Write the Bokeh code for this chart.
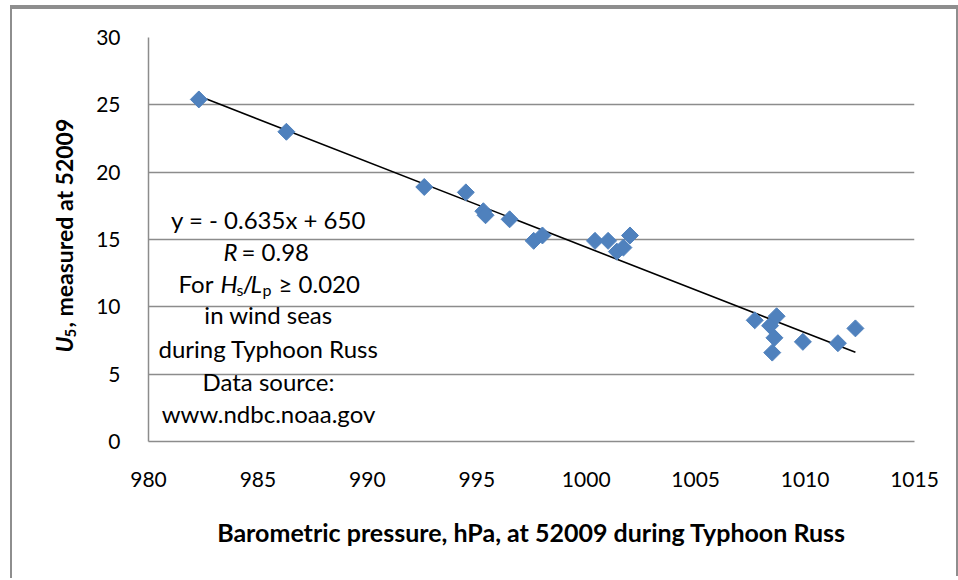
import numpy as np
from bokeh.plotting import figure
from bokeh.models import Label, FixedTicker, Range1d
from bokeh.embed import file_html
from bokeh.resources import INLINE

# ---- data ----
pressure = [982.3, 986.3, 992.6, 994.5, 995.3, 995.4, 996.5, 997.6, 998.0,
            1000.4, 1001.0, 1001.4, 1001.7, 1002.0,
            1007.7, 1008.4, 1008.7, 1008.6, 1008.5, 1009.9, 1011.5, 1012.3]
u5 = [25.4, 23.0, 18.9, 18.5, 17.1, 16.8, 16.5, 14.9, 15.3,
      14.9, 14.9, 14.1, 14.4, 15.3,
      9.0, 8.6, 9.3, 7.7, 6.6, 7.4, 7.3, 8.4]
x_ticks = [980, 985, 990, 995, 1000, 1005, 1010, 1015]
y_ticks = [0, 5, 10, 15, 20, 25, 30]

FONT = "Lato"
GRID = "#8c8c8c"
BLUE = "#4f81bd"
NB = "\u00a0"

W, H = 946, 571
ML, MT = 136, 28          # frame offset inside the canvas
FW, FH = 766, 404         # frame size

p = figure(width=W, height=H, x_range=Range1d(980, 1015), y_range=Range1d(0, 30),
           output_backend="svg", toolbar_location=None,
           min_border_left=ML, min_border_right=W - ML - FW,
           min_border_top=MT, min_border_bottom=H - MT - FH)
p.margin = (7, 0, 0, 10)
p.styles = {"border": "2px solid #8e8e8e",
            "border-right": "none", "border-bottom": "none",
            "box-shadow": "0px -2px 0px 0px #8e8e8e, 400px -2px 0px 0px #8e8e8e"}
p.outline_line_color = None
p.background_fill_color = "white"
p.border_fill_color = "white"

p.xgrid.visible = False
p.ygrid.grid_line_color = GRID
p.ygrid.grid_line_width = 1.5
p.yaxis.ticker = FixedTicker(ticks=y_ticks)
p.xaxis.ticker = FixedTicker(ticks=x_ticks)
for ax in (p.xaxis, p.yaxis):
    ax.axis_line_color = GRID
    ax.axis_line_width = 1.5
    ax.major_tick_line_color = None
    ax.minor_tick_line_color = None
    ax.major_tick_out = 0
    ax.major_tick_in = 0
    ax.minor_tick_out = 0
    ax.minor_tick_in = 0
    ax.major_label_text_font = FONT
    ax.major_label_text_font_size = "21px"
    ax.major_label_text_color = "black"
p.yaxis.major_label_standoff = 28
p.xaxis.major_label_standoff = 30
p.xaxis.axis_label = "Barometric pressure, hPa, at 52009 during Typhoon Russ"
p.xaxis.axis_label_text_font = FONT
p.xaxis.axis_label_text_font_style = "bold"
p.xaxis.axis_label_text_font_size = "25px"
p.xaxis.axis_label_text_color = "black"
p.xaxis.axis_label_standoff = 27

# ---- trend line (least squares) ----
slope, intercept = np.polyfit(pressure, u5, 1)
xs = [min(pressure), max(pressure)]
p.line(xs, [slope * v + intercept for v in xs], line_color="black", line_width=1.6)

# ---- points ----
p.scatter(pressure, u5, marker="square", angle=np.pi / 4, size=12,
          fill_color=BLUE, line_color=BLUE)

# helpers: reference-image pixel -> data coords
def dx(px):
    return 980 + (px - 148) * 35.0 / FW

def dy(py):
    return (441 - py) * 30.0 / FH

def lab(text, px, py, size="24px", style="normal", align="left", angle=0.0,
        place=None):
    l = Label(x=dx(px), y=dy(py), text=text, text_font=FONT,
              text_font_size=size, text_font_style=style,
              text_align=align, text_baseline="alphabetic",
              angle=angle, text_color="black")
    if place:
        p.add_layout(l, place)
    else:
        p.add_layout(l)

# ---- annotation block ----
lab("y = - 0.635x + 650", 268, 219, align="center")
lab("R", 223, 251, style="italic")
lab("= 0.98", 241, 251)
lab("For", 178, 283)
lab("H", 220, 283, style="italic")
lab("s", 236, 289, size="16px")
lab("/", 242, 283)
lab("L", 250, 283, style="italic")
lab("p", 262, 289, size="16px")
lab("≥" + NB + "0.020", 278, 283)
lab("in wind seas", 268, 314, align="center")
lab("during Typhoon Russ", 268, 348, align="center")
lab("Data source:", 268, 381, align="center")
lab("www.ndbc.noaa.gov", 268, 413, align="center")

# ---- y axis title (rotated, built from pieces, in the left panel) ----
A = np.pi / 2
lab("U", 63, 352, size="23px", style="bold italic", angle=A, place="left")
lab("5", 70, 337, size="15px", style="bold", angle=A, place="left")
lab(", measured at 52009", 63, 327, size="23px", style="bold", angle=A, place="left")

open("out.html", "w").write(file_html(p, INLINE))
